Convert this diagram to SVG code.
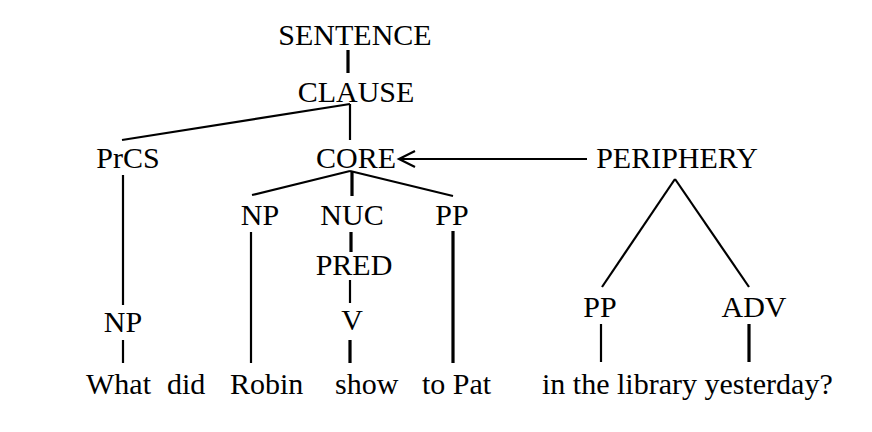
<svg xmlns="http://www.w3.org/2000/svg" width="872" height="432" viewBox="0 0 872 432">
<style>
text{font-family:"Liberation Serif","Times New Roman",serif;font-size:30px;fill:#000}
.c{text-anchor:middle}
.e{stroke:#000;stroke-width:2.2;fill:none}
.t{stroke-width:3.2}
</style>
<rect width="872" height="432" fill="#fff"/>
<g id="connectors">
<line class="e t" x1="348" y1="50" x2="348" y2="73"/>
<line class="e" x1="350" y1="104" x2="350" y2="140"/>
<line class="e" x1="350" y1="104" x2="122" y2="140"/>
<line class="e" x1="123" y1="175" x2="123" y2="305"/>
<line class="e" x1="123" y1="340" x2="123" y2="363"/>
<line class="e" x1="350" y1="171" x2="252" y2="195"/>
<line class="e t" x1="352" y1="171" x2="352" y2="196"/>
<line class="e" x1="350" y1="171" x2="453" y2="196"/>
<line class="e" x1="251" y1="232" x2="251" y2="363"/>
<line class="e t" x1="351" y1="232" x2="351" y2="252"/>
<line class="e" x1="350" y1="280" x2="350" y2="303"/>
<line class="e t" x1="350" y1="340" x2="350" y2="363"/>
<line class="e t" x1="453" y1="231" x2="453" y2="363"/>
<line class="e" x1="587" y1="159" x2="399" y2="159"/>
<polyline class="e" points="415,151 399,159 415,167"/>
<line class="e" x1="675" y1="179" x2="602" y2="287"/>
<line class="e" x1="675" y1="179" x2="749" y2="287"/>
<line class="e" x1="601" y1="324" x2="601" y2="362"/>
<line class="e t" x1="749" y1="324" x2="749" y2="362"/>
</g>
<g id="sentence"><text class="c" x="355" y="45">SENTENCE</text></g>
<g id="clause"><text class="c" x="356" y="102">CLAUSE</text></g>
<g id="prcs"><text class="c" x="128" y="168">PrCS</text></g>
<g id="core"><text class="c" x="356" y="168">CORE</text></g>
<g id="periphery"><text class="c" x="677" y="168">PERIPHERY</text></g>
<g id="np-core"><text class="c" x="260" y="225">NP</text></g>
<g id="nuc"><text class="c" x="352" y="225">NUC</text></g>
<g id="pp-core"><text class="c" x="452" y="225">PP</text></g>
<g id="pred"><text class="c" x="354" y="275">PRED</text></g>
<g id="v"><text class="c" x="352" y="330">V</text></g>
<g id="np-prcs"><text class="c" x="123" y="332">NP</text></g>
<g id="pp-per"><text class="c" x="600" y="317">PP</text></g>
<g id="adv"><text class="c" x="754" y="317">ADV</text></g>
<g id="words">
<text x="86" y="394">What</text>
<text x="167" y="394">did</text>
<text x="230" y="394">Robin</text>
<text x="335" y="394">show</text>
<text x="422" y="394">to Pat</text>
<text x="542" y="394">in the library yesterday?</text>
</g>
</svg>
